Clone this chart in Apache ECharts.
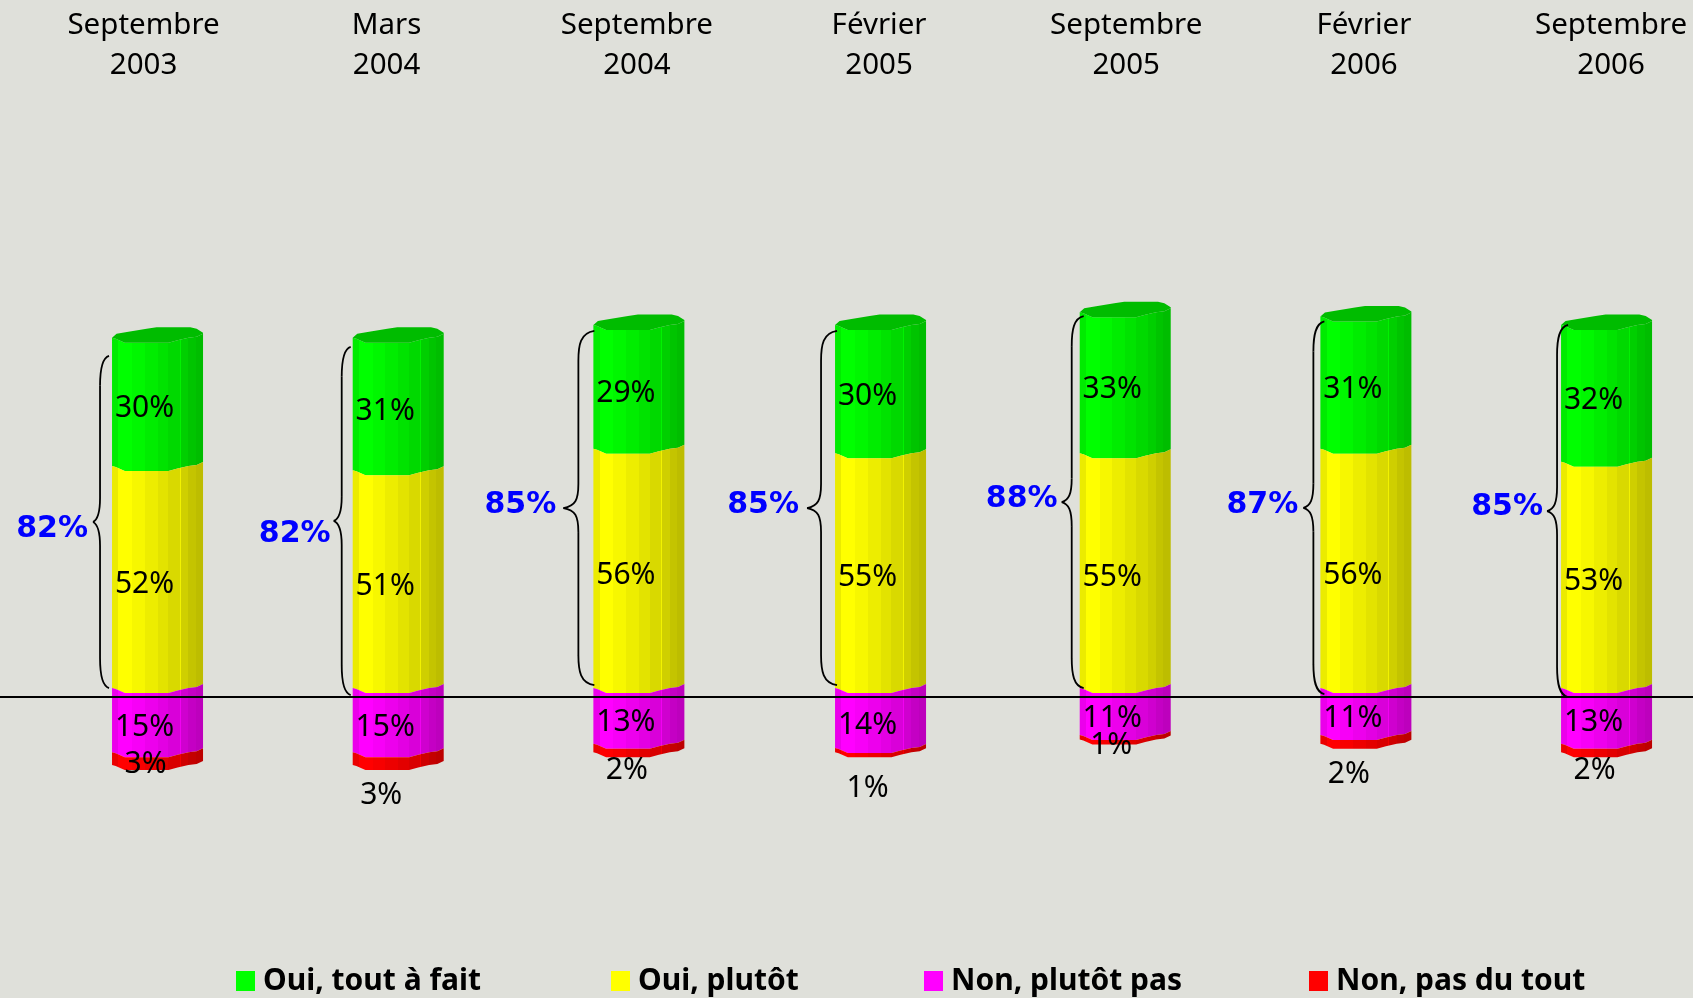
<!DOCTYPE html>
<html>
<head>
<meta charset="utf-8">
<style>
html, body { margin: 0; padding: 0; background: #dfe0da; }
#chart { width: 1693px; height: 998px; }
</style>
<script src="https://cdn.jsdelivr.net/npm/echarts@6/dist/echarts.min.js"></script>
</head>
<body>
<div id="chart"></div>
<script>
// data
const dates = ['Septembre\n2003', 'Mars\n2004', 'Septembre\n2004', 'Février\n2005', 'Septembre\n2005', 'Février\n2006', 'Septembre\n2006'];
const ouiTout = [30, 31, 29, 30, 33, 31, 32];
const ouiPlutot = [52, 51, 56, 55, 55, 56, 53];
const nonPlutot = [15, 15, 13, 14, 11, 11, 13];
const nonPasDuTout = [3, 3, 2, 1, 1, 2, 2];
const ouiTotal = [82, 82, 85, 85, 88, 87, 85];

// hand placement of the things that sit off their bar in the original (px)
const dateShift = [-14, -12.6, -4, -3.5, 2, -2, 3.5];
const barShift = [0, -1, -2, -2, 1, 0, -1];
const redLabelDx = [-12, -17, -12, -13, -14, -17, -12];
const redLabelDy = [-1, 30, 16, 31, 1, 28, 16];
const braceEnd = [-3, -2, 1, 2, 4, 4, 7];
const braceVert = [-9, -9, -16, -16, -12, -11, -11];
const braceTip = [-16, -17, -31, -30, -22, -21, -21];
const braceTop = [13, 4, 1, 1, -1, 0, -5];
const braceBottom = [-5, 2, -8, -8, -5, 1, 4];
const totalDx = [-41, -39, -43, -44, -40, -41, -40];
const totalDy = [5, 11, -5, -5, -5, -5, -6];

const BAR_W = 91;
const STEP = 241.67;
const DEPTH = 4; // front of the bars sits a little above the zero line
const FONT = '"Noto Sans", sans-serif';

// front edge of the fake cylinder: [x fraction, y offset]
const edge = [[0, -5], [0.04, -4], [0.14, 0], [0.62, 0], [0.72, -2.5], [0.84, -5], [0.93, -6], [1, -9]];
const capBack = [[0, -5], [0.05, -9], [0.18, -11], [0.38, -14], [0.49, -15.5], [0.86, -15.5], [0.93, -14], [1, -10]];
const stripes = [[0.07, 0.92], [0.22, 1], [0.36, 0.97], [0.5, 0.93], [0.62, 0.89], [0.745, 0.85], [0.755, 0.95], [0.84, 0.81], [0.92, 0.77], [1, 0.74]];

function shade(rgb, k) {
    return 'rgb(' + rgb.map(function (c) { return Math.round(c * k); }).join(',') + ')';
}

function stripeFill(rgb) {
    const stops = [];
    let from = 0;
    stripes.forEach(function (s) {
        stops.push({offset: from, color: shade(rgb, s[1])});
        stops.push({offset: s[0], color: shade(rgb, s[1])});
        from = s[0];
    });
    return new echarts.graphic.LinearGradient(0, 0, 1, 0, stops);
}

function segmentSeries(name, rgb, values, startOf, sign, isTop, isRed) {
    return {
        name: name,
        type: 'custom',
        itemStyle: {color: shade(rgb, 1)},
        data: values.map(function (v, i) {
            return [i, startOf(i), startOf(i) + sign * v, v];
        }),
        renderItem: function (params, api) {
            const i = api.value(0);
            const center = api.coord([i, 0])[0] + barShift[i];
            const left = center - BAR_W / 2;
            const y1 = api.coord([i, api.value(1)])[1] - DEPTH;
            const y2 = api.coord([i, api.value(2)])[1] - DEPTH;
            const upper = Math.min(y1, y2);
            const lower = Math.max(y1, y2);
            const points = [];
            edge.forEach(function (p) { points.push([left + p[0] * BAR_W, upper + p[1]]); });
            edge.slice().reverse().forEach(function (p) { points.push([left + p[0] * BAR_W, lower + p[1]]); });
            const children = [{
                type: 'polygon',
                shape: {points: points},
                style: {fill: stripeFill(rgb)}
            }];
            if (isTop) {
                const cap = capBack.map(function (p) { return [left + p[0] * BAR_W, upper + p[1]]; });
                edge.slice().reverse().forEach(function (p) { cap.push([left + p[0] * BAR_W, upper + p[1]]); });
                children.push({type: 'polygon', shape: {points: cap}, style: {fill: '#00bc00'}});
            }
            children.push({
                type: 'text',
                style: {
                    text: api.value(3) + '%',
                    x: center + (isRed ? redLabelDx[i] : -13),
                    y: (upper + lower) / 2 + 2 + (isRed ? redLabelDy[i] : 0),
                    align: 'center',
                    verticalAlign: 'middle',
                    fill: '#000',
                    fontSize: 30,
                    fontFamily: FONT
                }
            });
            return {type: 'group', children: children};
        }
    };
}

const zeroStart = function () { return 0; };
const afterPlutot = function (i) { return ouiPlutot[i]; };
const afterNonPlutot = function (i) { return -nonPlutot[i]; };

const braceSeries = {
    name: 'Total oui',
    type: 'custom',
    data: ouiTotal.map(function (v, i) { return [i, v]; }),
    renderItem: function (params, api) {
        const i = api.value(0);
        const center = api.coord([i, 0])[0] + barShift[i];
        const xe = center - BAR_W / 2 + braceEnd[i];
        const xv = xe + braceVert[i];
        const xt = xe + braceTip[i];
        const top = api.coord([i, api.value(1)])[1] - DEPTH + braceTop[i];
        const bottom = api.coord([i, 0])[1] - DEPTH + braceBottom[i];
        const mid = (top + bottom) / 2;
        const line = {stroke: '#000', lineWidth: 1.8, fill: null};
        function curve(x1, y1, cx1, cy1, cx2, cy2, x2, y2) {
            return {type: 'bezierCurve', shape: {x1: x1, y1: y1, cpx1: cx1, cpy1: cy1, cpx2: cx2, cpy2: cy2, x2: x2, y2: y2}, style: line};
        }
        return {
            type: 'group',
            children: [
                curve(xe, top, xv + 2, top + 2, xv, top + 14, xv, top + 30),
                {type: 'line', shape: {x1: xv, y1: top + 30, x2: xv, y2: mid - 24}, style: line},
                curve(xv, mid - 24, xv, mid - 8, xv - 3, mid - 2, xt, mid),
                curve(xt, mid, xv - 3, mid + 2, xv, mid + 8, xv, mid + 24),
                {type: 'line', shape: {x1: xv, y1: mid + 24, x2: xv, y2: bottom - 30}, style: line},
                curve(xv, bottom - 30, xv, bottom - 14, xv + 2, bottom - 2, xe, bottom),
                {
                    type: 'text',
                    style: {
                        text: api.value(1) + '%',
                        x: xt + totalDx[i],
                        y: mid + totalDy[i] + 2,
                        align: 'center',
                        verticalAlign: 'middle',
                        fill: '#0000ff',
                        fontSize: 30,
                        fontWeight: 'bold',
                        fontFamily: '"DejaVu Sans", sans-serif'
                    }
                }
            ]
        };
    }
};

const legendLefts = [236, 611, 924, 1309];
const legendNames = ['Oui, tout à fait', 'Oui, plutôt', 'Non, plutôt pas', 'Non, pas du tout'];

// the grid fills the page, so the x range is worked out to land the bars
const xMin = -0.5 - 36.7 / STEP;
const xMax = xMin + 1693 / STEP;

const chart = echarts.init(document.getElementById('chart'));
chart.setOption({
    animation: false,
    backgroundColor: '#dfe0da',
    legend: legendNames.map(function (name, i) {
        return {
            data: [name],
            left: legendLefts[i],
            top: 966,
            padding: 0,
            icon: 'rect',
            itemWidth: 19,
            itemHeight: 20,
            selectedMode: false,
            textStyle: {color: '#000', fontSize: 30, fontWeight: 'bold', fontFamily: FONT, padding: [0, 0, 0, 3]}
        };
    }),
    grid: {left: 0, right: 0, top: 99, height: 769},
    xAxis: [
        {
            type: 'value',
            min: xMin,
            max: xMax,
            z: 10,
            axisLine: {onZero: true, lineStyle: {color: '#000', width: 2}},
            axisTick: {show: false},
            splitLine: {show: false},
            axisLabel: {show: false}
        },
        {
            type: 'value',
            min: xMin,
            max: xMax,
            position: 'top',
            axisLine: {show: false},
            axisTick: {show: false},
            splitLine: {show: false},
            axisLabel: {
                customValues: dates.map(function (d, i) { return i + dateShift[i] / STEP; }),
                formatter: function (v) { return dates[Math.round(v)]; },
                margin: 13,
                color: '#000',
                fontSize: 29.5,
                lineHeight: 40,
                fontFamily: FONT
            }
        }
    ],
    yAxis: {type: 'value', min: -40, max: 140, show: false},
    series: [
        segmentSeries('Oui, tout à fait', [0, 255, 0], ouiTout, afterPlutot, 1, true, false),
        segmentSeries('Oui, plutôt', [255, 255, 0], ouiPlutot, zeroStart, 1, false, false),
        segmentSeries('Non, plutôt pas', [255, 0, 255], nonPlutot, zeroStart, -1, false, false),
        segmentSeries('Non, pas du tout', [255, 0, 0], nonPasDuTout, afterNonPlutot, -1, false, true),
        braceSeries
    ]
});

window.addEventListener('resize', function () {
    chart.resize();
});
</script>
</body>
</html>
